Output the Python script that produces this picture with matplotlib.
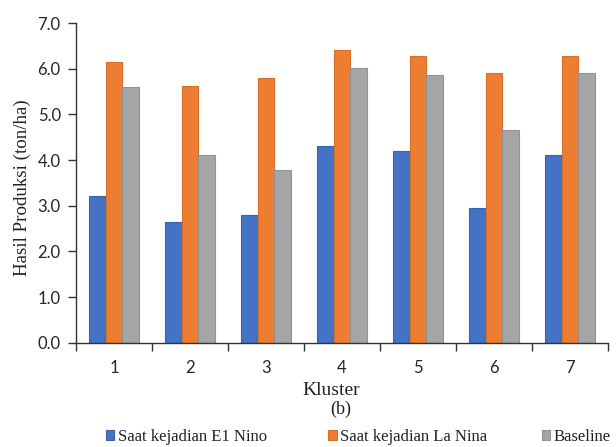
import matplotlib
matplotlib.use("Agg")
import matplotlib.pyplot as plt
import numpy as np

clusters = ["1", "2", "3", "4", "5", "6", "7"]
el_nino = [3.22, 2.65, 2.80, 4.30, 4.20, 2.95, 4.10]
la_nina = [6.15, 5.62, 5.80, 6.42, 6.28, 5.90, 6.28]
baseline = [5.60, 4.10, 3.78, 6.02, 5.87, 4.65, 5.90]
series_names = ["Saat kejadian E1 Nino", "Saat kejadian La Nina", "Baseline"]
y_ticks = [0.0, 1.0, 2.0, 3.0, 4.0, 5.0, 6.0, 7.0]

colors = ["#4472C4", "#ED7D31", "#A5A5A5"]
edges = ["#3A63AE", "#D56F2A", "#939393"]

fig = plt.figure(figsize=(6.16, 4.47), dpi=100)
ax = fig.add_axes([0.1234, 0.2333, 0.8636, 0.7152])

x = np.arange(len(clusters))
w = 0.22
handles = []
for i, (vals, c, e) in enumerate(zip([el_nino, la_nina, baseline], colors, edges)):
    b = ax.bar(x + (i - 1) * w, vals, width=w, color=c, edgecolor=e, linewidth=0.8)
    handles.append(b)

ax.set_xlim(-0.5, len(clusters) - 0.5)
ax.set_ylim(0, 7.0)

spine_col = "#333333"
for s in ["top", "right"]:
    ax.spines[s].set_visible(False)
for s in ["left", "bottom"]:
    ax.spines[s].set_color(spine_col)
    ax.spines[s].set_linewidth(1.0)

tick_font = dict(family=["Lato", "DejaVu Sans"], size=12)
ax.set_yticks(y_ticks)
ax.set_yticklabels([f"{v:.1f}" for v in y_ticks], fontdict=tick_font, color="#262626")
ax.tick_params(axis="y", direction="out", length=5.5, width=1.0, color=spine_col, pad=5.5)

ax.set_xticks(x)
ax.set_xticklabels(clusters, fontdict=tick_font, color="#262626")
ax.tick_params(axis="x", which="major", length=0, pad=12.5)
ax.set_xticks(np.arange(-0.5, len(clusters), 1.0), minor=True)
ax.tick_params(axis="x", which="minor", direction="out", length=6, width=1.0, color=spine_col)

serif = ["Liberation Serif", "DejaVu Serif"]
fig.text(0.037, 0.58, "Hasil Produksi (ton/ha)", rotation=90, ha="center", va="center",
         family=serif, size=13.7, color="#222222")
fig.text(0.537, 0.127, "Kluster", ha="center", va="center", family=serif, size=14, color="#222222")
fig.text(0.553, 0.085, "(b)", ha="center", va="center", family=serif, size=13, color="#222222")

legend_x = [0.172, 0.533, 0.880]
for h, name, lx in zip(handles, series_names, legend_x):
    fig.legend([h], [name], loc="center left", bbox_to_anchor=(lx, 0.022), frameon=False,
               prop=dict(family=serif, size=12), handlelength=0.5, handleheight=0.5,
               handletextpad=0.2, borderpad=0, borderaxespad=0, labelcolor="#222222")

fig.savefig("out.png", dpi=100)
